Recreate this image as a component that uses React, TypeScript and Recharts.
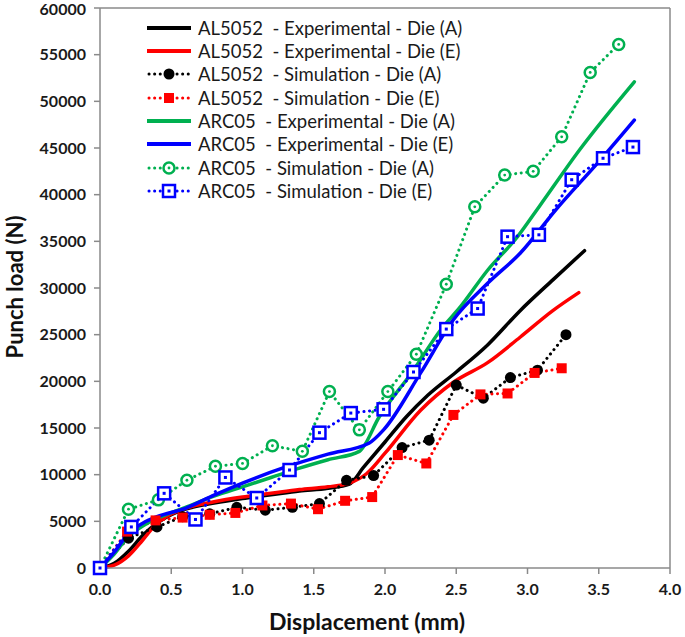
import React from 'react';
import { LineChart, Line, XAxis, YAxis, ReferenceLine, Legend } from 'recharts';

// experimental curves
const alExpAX = [0, 0.1, 0.2, 0.3, 0.4, 0.5, 0.6, 0.8, 1.0, 1.2, 1.4, 1.6, 1.75, 1.85, 2.0, 2.15, 2.3, 2.5, 2.72, 2.95, 3.18, 3.4];
const alExpAY = [0, 500, 1800, 3500, 4800, 5700, 6300, 6950, 7450, 7850, 8250, 8550, 9000, 10800, 13500, 16200, 18500, 21000, 23900, 27600, 30900, 34000];

const alExpEX = [0, 0.1, 0.2, 0.3, 0.4, 0.5, 0.6, 0.8, 1.0, 1.2, 1.4, 1.6, 1.75, 1.87, 2.0, 2.25, 2.48, 2.72, 2.95, 3.18, 3.36];
const alExpEY = [0, 300, 1300, 3000, 4800, 5800, 6400, 7100, 7600, 8000, 8400, 8700, 9100, 10100, 12300, 16900, 19900, 22000, 24750, 27600, 29500];

const arcExpAX = [0, 0.1, 0.2, 0.3, 0.4, 0.6, 0.8, 1.0, 1.2, 1.4, 1.6, 1.82, 1.96, 2.2, 2.39, 2.53, 2.72, 2.93, 3.09, 3.37, 3.75];
const arcExpAY = [0, 1500, 3400, 4500, 5300, 6500, 7700, 8700, 9700, 10700, 11600, 12500, 16200, 21200, 25500, 28000, 31900, 35500, 38900, 44900, 52100];

const arcExpEX = [0, 0.1, 0.2, 0.3, 0.4, 0.6, 0.8, 1.0, 1.3, 1.6, 1.89, 1.99, 2.25, 2.48, 2.72, 2.95, 3.2, 3.51, 3.75];
const arcExpEY = [0, 1700, 3700, 4800, 5500, 6400, 7800, 9100, 10800, 12200, 13400, 14800, 20900, 26600, 30500, 33750, 38400, 43700, 48000];

// simulation points
const alSimAX = [0, 0.2, 0.4, 0.58, 0.77, 0.96, 1.16, 1.35, 1.54, 1.73, 1.92, 2.12, 2.31, 2.5, 2.69, 2.88, 3.07, 3.27];
const alSimAY = [0, 3200, 4400, 5500, 5800, 6500, 6200, 6500, 6900, 9400, 9900, 12900, 13700, 19600, 18200, 20400, 21200, 25000];

const alSimEX = [0, 0.19, 0.39, 0.58, 0.77, 0.95, 1.14, 1.34, 1.53, 1.72, 1.91, 2.09, 2.29, 2.48, 2.67, 2.86, 3.05, 3.24];
const alSimEY = [0, 3900, 5100, 5400, 5700, 5900, 6700, 6900, 6300, 7200, 7600, 12100, 11200, 16400, 18600, 18700, 20900, 21400];

const arcSimAX = [0, 0.2, 0.41, 0.61, 0.81, 1.0, 1.21, 1.42, 1.61, 1.82, 2.02, 2.22, 2.43, 2.63, 2.84, 3.04, 3.24, 3.44, 3.64];
const arcSimAY = [0, 6300, 7300, 9400, 10900, 11200, 13100, 12500, 18900, 14800, 18900, 22900, 30400, 38700, 42100, 42500, 46200, 53100, 56100];

const arcSimEX = [0, 0.22, 0.45, 0.67, 0.88, 1.1, 1.33, 1.54, 1.76, 1.99, 2.2, 2.43, 2.65, 2.86, 3.08, 3.31, 3.53, 3.74];
const arcSimEY = [0, 4400, 8000, 5200, 9700, 7500, 10500, 14500, 16600, 17000, 21000, 25600, 27800, 35500, 35700, 41600, 43900, 45100];

const xTicks = [0, 0.5, 1, 1.5, 2, 2.5, 3, 3.5, 4];
const yTicks = [0, 5000, 10000, 15000, 20000, 25000, 30000, 35000, 40000, 45000, 50000, 55000, 60000];

const zip = (xs: number[], ys: number[]) => xs.map((x, i) => ({ x, y: ys[i] }));

const BLACK = '#000000';
const RED = '#ff0000';
const GREEN = '#00b050';
const BLUE = '#0000ff';
const AXIS = '#8a8a8a';

type MarkerKind = 'none' | 'disc' | 'block' | 'ring' | 'box';

interface Serie {
  name: string;
  color: string;
  sim: boolean;
  marker: MarkerKind;
  data: { x: number; y: number }[];
}

const series: Serie[] = [
  { name: 'AL5052  - Experimental - Die (A)', color: BLACK, sim: false, marker: 'none', data: zip(alExpAX, alExpAY) },
  { name: 'AL5052  - Experimental - Die (E)', color: RED, sim: false, marker: 'none', data: zip(alExpEX, alExpEY) },
  { name: 'AL5052  - Simulation - Die (A)', color: BLACK, sim: true, marker: 'disc', data: zip(alSimAX, alSimAY) },
  { name: 'AL5052  - Simulation - Die (E)', color: RED, sim: true, marker: 'block', data: zip(alSimEX, alSimEY) },
  { name: 'ARC05  - Experimental - Die (A)', color: GREEN, sim: false, marker: 'none', data: zip(arcExpAX, arcExpAY) },
  { name: 'ARC05  - Experimental - Die (E)', color: BLUE, sim: false, marker: 'none', data: zip(arcExpEX, arcExpEY) },
  { name: 'ARC05  - Simulation - Die (A)', color: GREEN, sim: true, marker: 'ring', data: zip(arcSimAX, arcSimAY) },
  { name: 'ARC05  - Simulation - Die (E)', color: BLUE, sim: true, marker: 'box', data: zip(arcSimEX, arcSimEY) },
];

const MarkerShape = ({ kind, color, cx, cy }: { kind: MarkerKind; color: string; cx: number; cy: number }) => {
  if (kind === 'disc') return <circle cx={cx} cy={cy} r={5.5} fill={color} />;
  if (kind === 'block') return <rect x={cx - 5} y={cy - 5} width={10} height={10} fill={color} />;
  if (kind === 'ring')
    return (
      <g>
        <circle cx={cx} cy={cy} r={5.5} fill="#fff" stroke={color} strokeWidth={2.5} />
        <circle cx={cx} cy={cy} r={1.4} fill={color} />
      </g>
    );
  if (kind === 'box')
    return (
      <g>
        <rect x={cx - 6} y={cy - 6} width={12} height={12} fill="#fff" stroke={color} strokeWidth={2.5} />
        <rect x={cx - 1.5} y={cy - 1.5} width={3} height={3} fill={color} />
      </g>
    );
  return null;
};

const renderLegend = () => (
  <div style={{ fontFamily: 'Lato, sans-serif', fontSize: 18.5, color: '#1a1a1a' }}>
    {series.map((s) => (
      <div key={s.name} style={{ display: 'flex', alignItems: 'center', height: 23.33, whiteSpace: 'pre' }}>
        <svg width={44} height={16} style={{ marginRight: 7, flexShrink: 0 }}>
          <line
            x1={s.sim ? 2 : 0}
            x2={s.sim ? 42 : 44}
            y1={8}
            y2={8}
            stroke={s.color}
            strokeWidth={s.sim ? 3 : 4}
            strokeDasharray={s.sim ? '0.1 5.5' : undefined}
            strokeLinecap={s.sim ? 'round' : 'butt'}
          />
          {s.sim && <MarkerShape kind={s.marker} color={s.color} cx={22} cy={8} />}
        </svg>
        <span>{s.name}</span>
      </div>
    ))}
  </div>
);

const tickStyle = { fontFamily: 'Lato, sans-serif', fontSize: 16, fontWeight: 700, fill: '#1a1a1a' };
const titleStyle = { fontFamily: 'Lato, sans-serif', fontSize: 23, fontWeight: 700, fill: '#111' };

export default function App() {
  return (
    <div style={{ position: 'absolute', left: 0, top: 0, width: 685, height: 637, background: '#fff' }}>
      <LineChart width={685} height={637} margin={{ top: 8, right: 15, left: 0, bottom: 0 }}>
        <XAxis
          dataKey="x"
          type="number"
          domain={[0, 4]}
          ticks={xTicks}
          tickFormatter={(v: number) => v.toFixed(1)}
          tick={tickStyle}
          tickSize={6}
          tickMargin={10}
          height={69}
          stroke={AXIS}
          axisLine={{ stroke: AXIS, strokeWidth: 1.5 }}
          tickLine={{ stroke: AXIS, strokeWidth: 1.5 }}
          label={{
            content: () => (
              <text x={367} y={630} textAnchor="middle" style={titleStyle}>
                Displacement (mm)
              </text>
            ),
          }}
        />
        <YAxis
          dataKey="y"
          type="number"
          domain={[0, 60000]}
          ticks={yTicks}
          tick={tickStyle}
          tickSize={6}
          tickMargin={8}
          width={100}
          stroke={AXIS}
          axisLine={{ stroke: AXIS, strokeWidth: 1.5 }}
          tickLine={{ stroke: AXIS, strokeWidth: 1.5 }}
          label={{
            content: () => (
              <text x={23} y={287} textAnchor="middle" transform="rotate(-90 23 287)" style={{ ...titleStyle, fontSize: 22 }}>
                Punch load (N)
              </text>
            ),
          }}
        />
        <ReferenceLine y={60000} stroke={AXIS} strokeWidth={1.5} />
        <ReferenceLine x={4} stroke={AXIS} strokeWidth={1.5} />
        {series.map((s) => (
          <Line
            key={s.name}
            data={s.data}
            dataKey="y"
            name={s.name}
            type={s.sim ? 'linear' : 'monotone'}
            stroke={s.color}
            strokeWidth={s.sim ? 3 : 3.5}
            strokeDasharray={s.sim ? '0.1 5.5' : undefined}
            strokeLinecap="round"
            activeDot={false}
            dot={
              s.sim
                ? (p: any) => <MarkerShape key={`${s.name}-${p.index}`} kind={s.marker} color={s.color} cx={p.cx} cy={p.cy} />
                : false
            }
            isAnimationActive={false}
          />
        ))}
        <Legend
          content={renderLegend}
          layout="vertical"
          align="center"
          verticalAlign="middle"
          wrapperStyle={{ left: 147, top: 16, width: 320 }}
        />
      </LineChart>
    </div>
  );
}
